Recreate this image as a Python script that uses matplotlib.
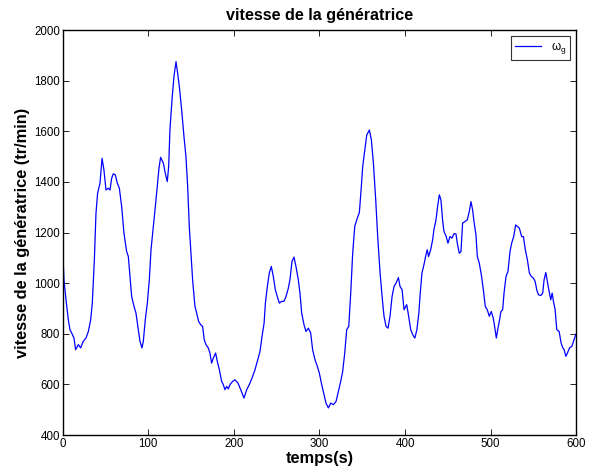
import matplotlib
matplotlib.use("Agg")
import matplotlib.pyplot as plt

plt.rcParams['font.family'] = ['Liberation Sans', 'DejaVu Sans']
plt.rcParams['mathtext.fontset'] = 'custom'
plt.rcParams['mathtext.rm'] = 'Liberation Sans'
plt.rcParams['mathtext.it'] = 'Liberation Sans'

time_s = [0, 1.5, 3.9, 6.6, 8.5, 10.5, 13.2, 15.1, 18.3, 21, 24, 27.2, 30, 32.7, 34.6, 37, 38.9, 40.8,
          43.6, 46, 48.2, 50.6, 53.3, 55.3, 57.2, 59.1, 61.5, 63.8, 66.2, 68.9, 71.6, 74.7, 76.7,
          78.6, 80.6, 83.3, 85.6, 88.4, 90.3, 92.6, 94.2, 96.5, 98.9, 101.2, 103.2, 105.9, 109,
          112.5, 114.4, 117.6, 119.9, 122.2, 123.8, 125.3, 127.7, 130, 132.4, 134.3, 136.3, 139,
          141.7, 144, 146, 147.9, 149.9, 151.8, 154.5, 156.5, 158.8, 161.2, 163.5, 165.4, 167.4,
          170.1, 172, 174, 176, 178.7, 180.6, 183, 185.7, 187.6, 189.6, 191.5, 193.5, 195.4,
          198.6, 201.3, 204.8, 208, 211.8, 215, 218, 221.2, 224.7, 227.4, 230.5, 232.9, 235.3,
          236.8, 239.1, 241.4, 243.7, 246.1, 248.4, 250.7, 253.1, 255.8, 258.5, 260.9, 263.6,
          265.5, 267.9, 270.2, 272.5, 275.3, 277.2, 279.2, 281.9, 284.2, 287, 289.7, 292, 294.8,
          297.5, 299.8, 302.6, 305.3, 307.6, 310.4, 313.1, 316.2, 319.4, 322.1, 324.8, 327.1,
          329.5, 331.8, 334.2, 336.5, 338.8, 341.2, 343.5, 346.6, 348.6, 350.5, 352.9, 355.2,
          358.3, 360.6, 363, 365.7, 368, 370.8, 373.5, 375.4, 377.8, 380.1, 382.4, 384.8, 387.1,
          389.5, 392.2, 394.1, 396.5, 398.8, 401.9, 403.9, 406.6, 409, 411.4, 413.8, 416.1,
          417.4, 419.7, 422, 424.4, 425.9, 427.5, 429.9, 432.2, 433.7, 436.1, 438, 440, 441.9,
          443.8, 445.4, 447.8, 450.1, 452.4, 454.8, 457.1, 459.4, 461, 463.3, 465.3, 467.2,
          469.9, 472.7, 475, 477, 478.9, 480.5, 482.8, 484.4, 486.7, 489.4, 491.4, 493.7, 496,
          498.4, 500.7, 503, 504.6, 506.6, 508.5, 510.1, 512, 514, 515.6, 517.9, 520.2, 522.6,
          524.5, 526.9, 529.2, 531.2, 533.5, 536.2, 538.2, 540.5, 542.9, 545.2, 547.5, 549.9,
          551.9, 553.8, 555.8, 558.5, 560.8, 562.4, 564.4, 565.9, 567.9, 570.2, 571.8, 573.3,
          575.3, 577.2, 580, 582.3, 584.3, 585.8, 587.8, 589.7, 592.1, 594.8, 596.7, 598.7, 600]

speed_rpm = [1138, 1013, 934, 855, 816, 803, 783, 737, 757, 744, 770, 783, 809, 855, 921, 1092, 1276, 1355,
             1395, 1493, 1447, 1368, 1375, 1368, 1414, 1432, 1428, 1395, 1375, 1303, 1197, 1125, 1105,
             1026, 947, 908, 882, 816, 770, 744, 770, 855, 921, 1013, 1132, 1224, 1329,
             1454, 1497, 1474, 1434, 1401, 1460, 1605, 1724, 1816, 1875, 1829, 1776, 1684,
             1579, 1500, 1382, 1224, 1118, 1013, 908, 882, 849, 836, 829, 776, 757,
             744, 724, 684, 704, 724, 691, 658, 612, 599, 579, 592, 582, 599,
             612, 618, 605, 579, 546, 579, 599, 625, 658, 691, 730, 790, 842,
             921, 987, 1040, 1066, 1026, 974, 947, 921, 928, 928, 947, 980,
             1013, 1086, 1103, 1066, 1013, 961, 882, 836, 809, 822, 803, 737, 697,
             671, 645, 599, 559, 526, 507, 526, 520, 533, 572, 612, 651,
             724, 816, 829, 961, 1118, 1224, 1250, 1279, 1368, 1461, 1526, 1585,
             1605, 1566, 1474, 1329, 1184, 1040, 934, 869, 829, 822, 869, 947, 987,
             1000, 1022, 987, 974, 895, 915, 875, 816, 796, 783, 816, 882,
             947, 1040, 1072, 1112, 1132, 1105, 1132, 1171, 1211, 1250, 1303, 1349, 1329,
             1250, 1204, 1187, 1158, 1184, 1178, 1195, 1195, 1158, 1118, 1125, 1237,
             1243, 1250, 1283, 1322, 1289, 1243, 1191, 1105, 1079, 1026, 974, 908, 895,
             869, 888, 862, 829, 783, 822, 849, 888, 895, 961, 1026, 1046, 1125,
             1158, 1184, 1230, 1224, 1217, 1184, 1184, 1132, 1092, 1040, 1026, 1020,
             1007, 974, 954, 951, 961, 1013, 1042, 1013, 974, 934, 961, 928,
             895, 816, 809, 763, 744, 737, 711, 724, 744, 750, 770, 790, 800]

x_ticks = [0, 100, 200, 300, 400, 500, 600]
y_ticks = [400, 600, 800, 1000, 1200, 1400, 1600, 1800, 2000]

fig = plt.figure(figsize=(5.93, 4.75), dpi=100)
ax = fig.add_axes([0.1057, 0.0842, 0.8661, 0.8526])
ax.plot(time_s, speed_rpm, color='#0000ff', linewidth=0.9, label=r'$\omega_g$')
ax.set_xlim(0, 600)
ax.set_ylim(400, 2000)
ax.set_xticks(x_ticks)
ax.set_yticks(y_ticks)
ax.tick_params(direction='in', top=True, right=True, length=4, width=0.6, labelsize=8.3, pad=2)
for s in ax.spines.values():
    s.set_linewidth(1.0)
ax.set_title('vitesse de la génératrice', fontsize=11.6, fontweight='bold', pad=7)
ax.set_xlabel('temps(s)', fontsize=11.8, fontweight='bold', labelpad=1)
ax.set_ylabel('vitesse de la génératrice (tr/min)', fontsize=11.8, fontweight='bold', labelpad=3)
leg = ax.legend(loc='upper right', fontsize=8.5, frameon=True, fancybox=False, edgecolor='black',
                handlelength=2.2, borderpad=0.35, borderaxespad=0.5)
leg.get_frame().set_linewidth(0.8)
fig.savefig('out.png', dpi=100)
